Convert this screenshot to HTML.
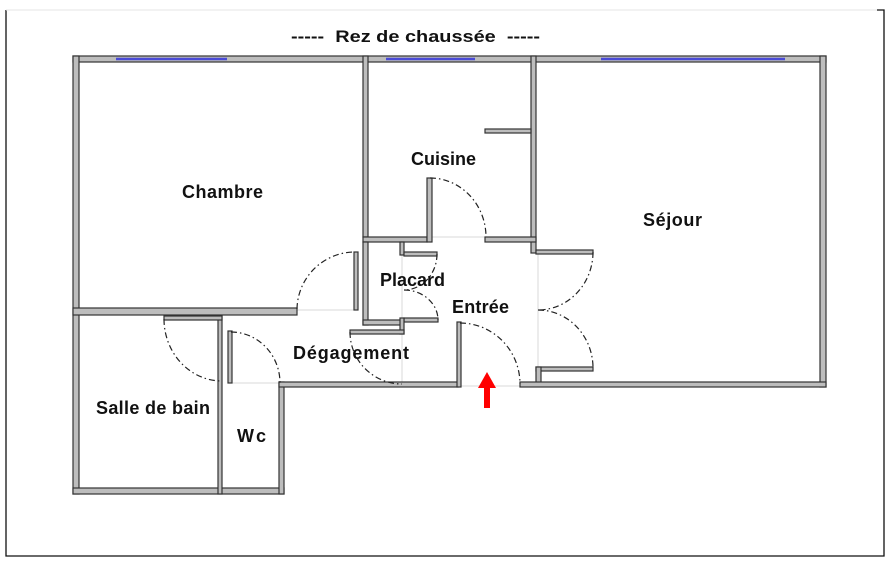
<!DOCTYPE html>
<html><head><meta charset="utf-8"><style>
html,body{margin:0;padding:0;background:#fff;}
svg{display:block;}
text{font-family:"Liberation Sans",sans-serif;font-weight:bold;fill:#111;}
</style></head><body>
<svg width="891" height="564" viewBox="0 0 891 564" xmlns="http://www.w3.org/2000/svg">
<rect x="0" y="0" width="891" height="564" fill="#fff"/>
<polyline points="6,10 6,556 884,556 884,10 877,10" fill="none" stroke="#111" stroke-width="1.3"/>
<line x1="6" y1="10" x2="877" y2="10" stroke="#e6e6e6" stroke-width="1"/>
<text x="291" y="42" font-size="17" textLength="249" lengthAdjust="spacingAndGlyphs" xml:space="preserve">-----  Rez de chaussée  -----</text>
<g stroke="#d8d8d8" stroke-width="1" fill="none">
<line x1="297" y1="310" x2="358" y2="310"/>
<line x1="222" y1="320" x2="222" y2="382"/>
<line x1="230" y1="383" x2="279" y2="383"/>
<line x1="402" y1="255" x2="402" y2="320"/>
<line x1="402" y1="332" x2="402" y2="383"/>
<line x1="432" y1="237" x2="485" y2="237"/>
<line x1="538" y1="253" x2="538" y2="369"/>
<line x1="461" y1="386" x2="520" y2="386"/>
</g>
<g fill="#bdbdbd" stroke="#333" stroke-width="1.2">
<rect x="73" y="56" width="753" height="6"/>
<rect x="73" y="56" width="6" height="438"/>
<rect x="820" y="56" width="6" height="331"/>
<rect x="73" y="488" width="211" height="6"/>
<rect x="279" y="382" width="5" height="112"/>
<rect x="218" y="315" width="4" height="179"/>
<rect x="73" y="308" width="224" height="7"/>
<rect x="363" y="56" width="5" height="181"/>
<rect x="531" y="56" width="5" height="197"/>
<rect x="363" y="237" width="64" height="5"/>
<rect x="427" y="178" width="5" height="64"/>
<rect x="485" y="237" width="51" height="5"/>
<rect x="485" y="129" width="46" height="4"/>
<rect x="536" y="250" width="57" height="4"/>
<rect x="536" y="367" width="57" height="4"/>
<rect x="536" y="367" width="5" height="19"/>
<rect x="363" y="242" width="5" height="83"/>
<rect x="363" y="320" width="39" height="5"/>
<rect x="400" y="242" width="4" height="13"/>
<rect x="404" y="252" width="33" height="4"/>
<rect x="404" y="318" width="34" height="4"/>
<rect x="400" y="318" width="4" height="16"/>
<rect x="350" y="330" width="54" height="4"/>
<rect x="354" y="252" width="4" height="58"/>
<rect x="279" y="382" width="179" height="5"/>
<rect x="457" y="322" width="4" height="65"/>
<rect x="520" y="382" width="306" height="5"/>
<rect x="164" y="316" width="58" height="4"/>
<rect x="228" y="331" width="4" height="52"/>
</g>
<g stroke="#4a4ad6" stroke-width="2.5">
<line x1="116" y1="59" x2="227" y2="59"/>
<line x1="386" y1="59" x2="475" y2="59"/>
<line x1="601" y1="59" x2="785" y2="59"/>
</g>
<g fill="none" stroke="#222" stroke-width="1.2" stroke-dasharray="6,3,1.5,3">
<path d="M297,309 A58,58 0 0 1 355,252"/>
<path d="M164,319 A58,62 0 0 0 222,381"/>
<path d="M231,332 A49,51 0 0 1 280,383"/>
<path d="M430,178 A56,59 0 0 1 486,237"/>
<path d="M437,254 A33,36 0 0 1 404,290"/>
<path d="M404,290 A34,30 0 0 1 438,320"/>
<path d="M350,332 A52,52 0 0 0 402,384"/>
<path d="M460,323 A60,61 0 0 1 520,384"/>
<path d="M593,252 A55,58 0 0 1 538,310"/>
<path d="M538,310 A55,58 0 0 1 593,369"/>
</g>
<polygon points="487,372 478,388 484,388 484,408 490,408 490,388 496,388" fill="#f00"/>
<g font-size="18" lengthAdjust="spacingAndGlyphs">
<text x="182" y="198" textLength="81">Chambre</text>
<text x="411" y="165" textLength="65">Cuisine</text>
<text x="643" y="226" textLength="59">Séjour</text>
<text x="380" y="286" textLength="65">Placard</text>
<text x="452" y="313" textLength="57">Entrée</text>
<text x="293" y="359" textLength="116">Dégagement</text>
<text x="96" y="414" textLength="114">Salle de bain</text>
<text x="237" y="442" textLength="29">Wc</text>
</g>
</svg>
</body></html>
